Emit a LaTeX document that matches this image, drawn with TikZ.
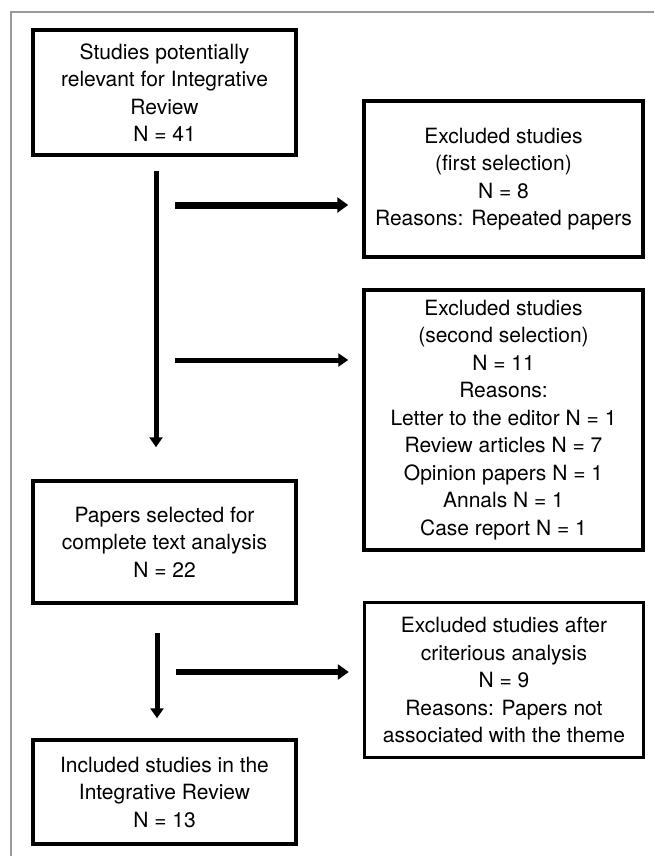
\documentclass[tikz,border=0pt]{standalone}
\usepackage{fontspec}
\setmainfont{TeX Gyre Heros}
\usepackage{tikz}
\usetikzlibrary{arrows.meta, calc, positioning}

\begin{document}
\begin{tikzpicture}[x=1pt,y=-1pt,
	boxstyle/.style={draw,rectangle,line width=3.5pt,align=center,inner sep=0pt,
		font=\fontsize{21}{27.5}\selectfont},
	leftbox/.style={boxstyle,minimum width=263pt},
	rightbox/.style={boxstyle,minimum width=279pt},
	flowarrow/.style={-{Triangle[length=10pt,width=13pt]},line width=5pt}
]
	\useasboundingbox (0,0) rectangle (654,856);
	\draw[gray!80,line width=1.5pt] (11,856) -- (11,12) -- (654,12);

	\node[leftbox,minimum height=125pt] at (164.5,92.5) (st0) {Studies potentially\\relevant for Integrative\\Review\\N = 41};
	\node[rightbox,minimum height=156pt] at (503.5,179) (ex1) {Excluded studies\\(first selection)\\N = 8\\Reasons: Repeated papers};
	\node[rightbox,minimum height=260pt] at (503.5,420) (ex2) {Excluded studies\\(second selection)\\N = 11\\Reasons:\\Letter to the editor N = 1\\Review articles N = 7\\Opinion papers N = 1\\Annals N = 1\\Case report N = 1};
	\node[leftbox,minimum height=122pt] at (164.5,542) (sel) {Papers selected for\\complete text analysis\\N = 22};
	\node[rightbox,minimum height=155pt] at (504,680) (ex3) {Excluded studies after\\criterious analysis\\N = 9\\Reasons: Papers not\\associated with the theme};
	\node[leftbox,minimum height=104pt] at (164.5,792) (inc) {Included studies in the\\Integrative Review\\N = 13};

	\draw[flowarrow,shorten <=14pt,shorten >=32pt] ([xshift=-8.5pt]st0.south) -- ([xshift=-8.5pt]sel.north);
	\draw[flowarrow,shorten <=28pt,shorten >=20pt] ([xshift=-7.5pt]sel.south) -- ([xshift=-7.5pt]inc.north);

	\coordinate (h1) at (175,205);
	\coordinate (h2) at (175,360);
	\coordinate (h3) at (176,672);
	\draw[flowarrow,line width=7pt,-{Triangle[length=11pt,width=15pt]},shorten >=14pt] (h1) -- (h1 -| ex1.west);
	\draw[flowarrow,shorten >=14pt] (h2) -- (h2 -| ex2.west);
	\draw[flowarrow,line width=6.5pt,-{Triangle[length=11pt,width=15pt]},shorten >=14pt] (h3) -- (h3 -| ex3.west);
\end{tikzpicture}
\end{document}
